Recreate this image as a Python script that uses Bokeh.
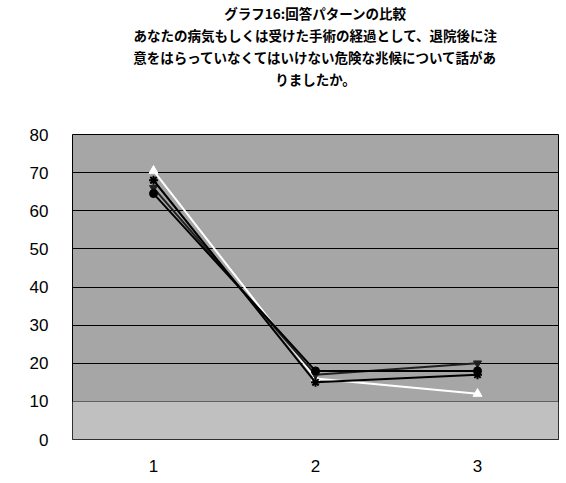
from bokeh.plotting import figure
from bokeh.models import Range1d, FixedTicker, Title, BoxAnnotation
from bokeh.embed import file_html
from bokeh.resources import INLINE

title_lines = [
    "グラフ16:回答パターンの比較",
    "あなたの病気もしくは受けた手術の経過として、退院後に注",
    "意をはらっていなくてはいけない危険な兆候について話があ",
    "りましたか。",
]
categories = [1, 2, 3]
series_circle = [64.5, 18, 18]
series_star = [68, 15, 17]
series_triangle = [70.5, 16, 12]
series_invtri = [66, 17, 20]
y_ticks = [0, 10, 20, 30, 40, 50, 60, 70, 80]

p = figure(width=566, height=483, output_backend="svg", toolbar_location=None,
           x_range=Range1d(0.5, 3.5), y_range=Range1d(0, 80),
           min_border_left=72, min_border_right=8, min_border_bottom=44, min_border_top=12)

p.title = None
p.add_layout(Title(text=" ", text_font_size="40px", standoff=0, offset=0), "above")
for line in reversed(title_lines):
    p.add_layout(Title(text=line, align="center", text_font="Noto Sans CJK JP",
                       text_font_size="13.5px", text_font_style="bold", text_color="black",
                       standoff=0, offset=0), "above")

p.background_fill_color = "#a6a6a6"
p.border_fill_color = "white"
p.outline_line_color = "black"
p.outline_line_width = 1

p.add_layout(BoxAnnotation(bottom=0, top=10, fill_color="#c0c0c0", fill_alpha=1, line_alpha=0, level="underlay"))

p.xgrid.grid_line_color = None
p.ygrid.grid_line_color = "black"
p.ygrid.grid_line_width = 1
p.ygrid.ticker = FixedTicker(ticks=y_ticks)

p.yaxis.ticker = FixedTicker(ticks=y_ticks)
p.xaxis.ticker = FixedTicker(ticks=categories)
for ax in (p.xaxis, p.yaxis):
    ax.axis_line_color = None
    ax.major_tick_line_color = None
    ax.minor_tick_line_color = None
    ax.major_label_text_font = "Liberation Sans"
    ax.major_label_text_font_size = "17px"
    ax.major_label_text_color = "black"
p.yaxis.major_label_standoff = 18
p.xaxis.major_label_standoff = 14

p.line(categories, series_triangle, line_color="white", line_width=2)
p.scatter(categories, series_triangle, marker="triangle", size=9, fill_color="white", line_color="white")
p.line(categories, series_invtri, line_color="#202020", line_width=2)
p.scatter(categories, series_invtri, marker="inverted_triangle", size=8, fill_color="#202020", line_color="#202020")
p.line(categories, series_star, line_color="black", line_width=2)
p.scatter(categories, series_star, marker="asterisk", size=9, line_color="black", line_width=2)
p.line(categories, series_circle, line_color="black", line_width=2)
p.scatter(categories, series_circle, marker="circle", size=8, fill_color="black", line_color="black")

open("out.html", "w").write(file_html(p, INLINE))
